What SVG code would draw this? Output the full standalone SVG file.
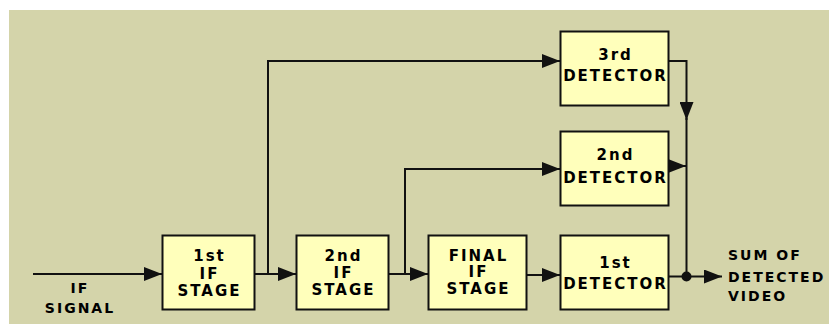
<svg xmlns="http://www.w3.org/2000/svg" width="829" height="324" viewBox="0 0 829 324">
<defs>
<style>
.box{fill:#FFFFBB;stroke:#111;stroke-width:2}
.ln{fill:none;stroke:#111;stroke-width:2}
.t{font-family:"DejaVu Sans","Liberation Sans",sans-serif;font-weight:bold;font-size:15px;letter-spacing:2px;fill:#000;text-anchor:middle}
.s{font-size:14px}
.l{text-anchor:start}
</style>
<marker id="ah" viewBox="0 0 18 14" refX="18" refY="7" markerWidth="18" markerHeight="14" markerUnits="userSpaceOnUse" orient="auto">
<path d="M0,0 L18,7 L0,14 Z" fill="#111"/>
</marker>
</defs>
<rect x="0" y="0" width="829" height="324" fill="#FFFFFF"/>
<rect x="9" y="10" width="820" height="314" fill="#D4D4AA"/>
<g id="connectors">
<line class="ln" x1="33" y1="274" x2="162" y2="274" marker-end="url(#ah)"/>
<line class="ln" x1="255" y1="274" x2="296" y2="274" marker-end="url(#ah)"/>
<path class="ln" d="M268,274 V61 H560" marker-end="url(#ah)"/>
<line class="ln" x1="388" y1="274" x2="428" y2="274" marker-end="url(#ah)"/>
<path class="ln" d="M405,274 V169 H560" marker-end="url(#ah)"/>
<line class="ln" x1="526" y1="275" x2="560" y2="275" marker-end="url(#ah)"/>
<line class="ln" x1="668" y1="276.5" x2="722" y2="276.5" marker-end="url(#ah)"/>
<path class="ln" d="M668,61 H686.5 V120" marker-end="url(#ah)"/>
<line class="ln" x1="686.5" y1="118" x2="686.5" y2="276.5"/>
<line class="ln" x1="668" y1="166" x2="686" y2="166" marker-end="url(#ah)"/>
<circle cx="686.5" cy="276.5" r="5" fill="#111"/>
</g>
<g id="if-signal">
<text class="t s" x="80" y="293">IF</text>
<text class="t s" x="80" y="313">SIGNAL</text>
</g>
<g id="if1">
<rect class="box" x="162.5" y="235.5" width="92" height="74"/>
<text class="t" x="209.5" y="260.5">1st</text>
<text class="t" x="209.5" y="278.5">IF</text>
<text class="t" x="209.5" y="295.5">STAGE</text>
</g>
<g id="if2">
<rect class="box" x="296.5" y="235.5" width="92" height="74"/>
<text class="t" x="343.5" y="260.5">2nd</text>
<text class="t" x="343.5" y="277.5">IF</text>
<text class="t" x="343.5" y="294.5">STAGE</text>
</g>
<g id="final-if">
<rect class="box" x="428.5" y="235.5" width="98" height="74"/>
<text class="t" x="478.5" y="260.5">FINAL</text>
<text class="t" x="478.5" y="277">IF</text>
<text class="t" x="478.5" y="294">STAGE</text>
</g>
<g id="det1">
<rect class="box" x="560.5" y="235.5" width="108" height="74"/>
<text class="t" x="615.5" y="268">1st</text>
<text class="t" x="615.5" y="289">DETECTOR</text>
</g>
<g id="det2">
<rect class="box" x="560.5" y="131.5" width="108" height="74"/>
<text class="t" x="615.5" y="160">2nd</text>
<text class="t" x="615.5" y="182.5">DETECTOR</text>
</g>
<g id="det3">
<rect class="box" x="560.5" y="31.5" width="108" height="74"/>
<text class="t" x="615.5" y="59.5">3rd</text>
<text class="t" x="615.5" y="81">DETECTOR</text>
</g>
<g id="output">
<text class="t s l" x="728" y="259.5">SUM OF</text>
<text class="t s l" x="728" y="282">DETECTED</text>
<text class="t s l" x="728" y="301">VIDEO</text>
</g>
</svg>
